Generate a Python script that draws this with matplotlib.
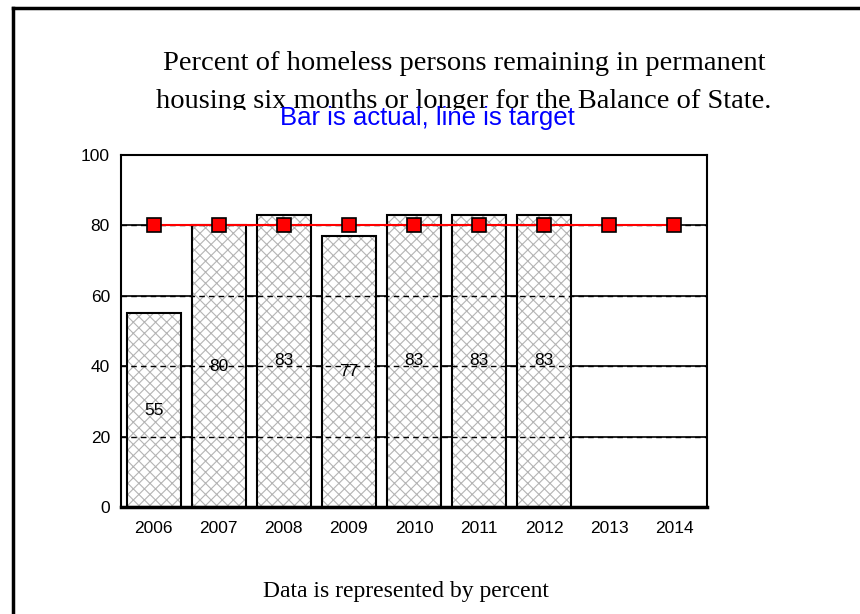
import matplotlib
matplotlib.use("Agg")
import matplotlib.pyplot as plt
from matplotlib.lines import Line2D
from matplotlib.patches import Rectangle
import numpy as np

plt.rcParams['hatch.linewidth'] = 0.8

years = ["2006", "2007", "2008", "2009", "2010", "2011", "2012", "2013", "2014"]
actual = [55, 80, 83, 77, 83, 83, 83]
target = [80, 80, 80, 80, 80, 80, 80, 80, 80]
yticks = [0, 20, 40, 60, 80, 100]

title_line1 = "Percent of homeless persons remaining in permanent"
title_line2 = "housing six months or longer for the Balance of State."
subtitle_text = "Bar is actual, line is target"
footer_text = "Data is represented by percent"

fig = plt.figure(figsize=(8.6, 6.14), dpi=100)
ax = fig.add_axes([121/860, 1-507/614, (707-121)/860, (507-155)/614])

x = np.arange(len(years))
ax.set_xlim(-0.5, len(years)-0.5)
ax.set_ylim(0, 100)

# grid: solid behind, dashed over bars
for v in yticks[1:-1]:
    ax.axhline(v, color='black', lw=1.2, zorder=1)
    ax.axhline(v, color='black', lw=1.0, ls=(0, (4, 3)), zorder=3)

ax.bar(x[:len(actual)], actual, width=0.83, facecolor='white', edgecolor='#b4b4b4',
       lw=0, hatch='xxx', zorder=2)
ax.bar(x[:len(actual)], actual, width=0.83, facecolor='none', edgecolor='black',
       lw=1.5, zorder=4)

for xi, v in zip(x, actual):
    ax.text(xi, v/2, str(v), ha='center', va='center', fontsize=12.5,
            family='Liberation Sans', zorder=6)

ax.plot(x, target, color='red', lw=1.5, marker='s', markersize=10,
        markerfacecolor='red', markeredgecolor='black', markeredgewidth=1.2, zorder=5)

ax.set_xticks(x)
ax.set_xticklabels(years, family='Liberation Sans', fontsize=12.5)
ax.set_yticks(yticks)
ax.set_yticklabels([str(t) for t in yticks], family='Liberation Sans', fontsize=12.5)
ax.tick_params(axis='x', length=0, pad=10)
ax.tick_params(axis='y', length=0, pad=8)
for s in ax.spines.values():
    s.set_linewidth(1.5)
ax.spines['bottom'].set_linewidth(2.5)

fig.text(464.5/860, 1-63/614, title_line1, ha='center', va='center',
         family='Liberation Serif', fontsize=20.5, zorder=1)
fig.text(463.5/860, 1-101/614, title_line2, ha='center', va='center',
         family='Liberation Serif', fontsize=20.5, zorder=1)
# white box behind the subtitle that hides the lower part of the title line
fig.add_artist(Rectangle((140/860, 1-140/614), (590-140)/860, (140-110.5)/614,
                         facecolor='white', edgecolor='none',
                         transform=fig.transFigure, zorder=2))
fig.text(427.5/860, 1-118/614, subtitle_text, ha='center', va='center',
         family='Liberation Sans', fontsize=18.5, color='blue', zorder=3)
fig.text(405.5/860, 1-591/614, footer_text, ha='center', va='center',
         family='Liberation Serif', fontsize=17)

# page border
fig.add_artist(Line2D([13/860, 13/860], [0, 1-8/614], color='black', lw=2.5,
                      transform=fig.transFigure))
fig.add_artist(Line2D([13/860, 1], [1-8/614, 1-8/614], color='black', lw=2.5,
                      transform=fig.transFigure))

fig.savefig("out.png", dpi=100)
